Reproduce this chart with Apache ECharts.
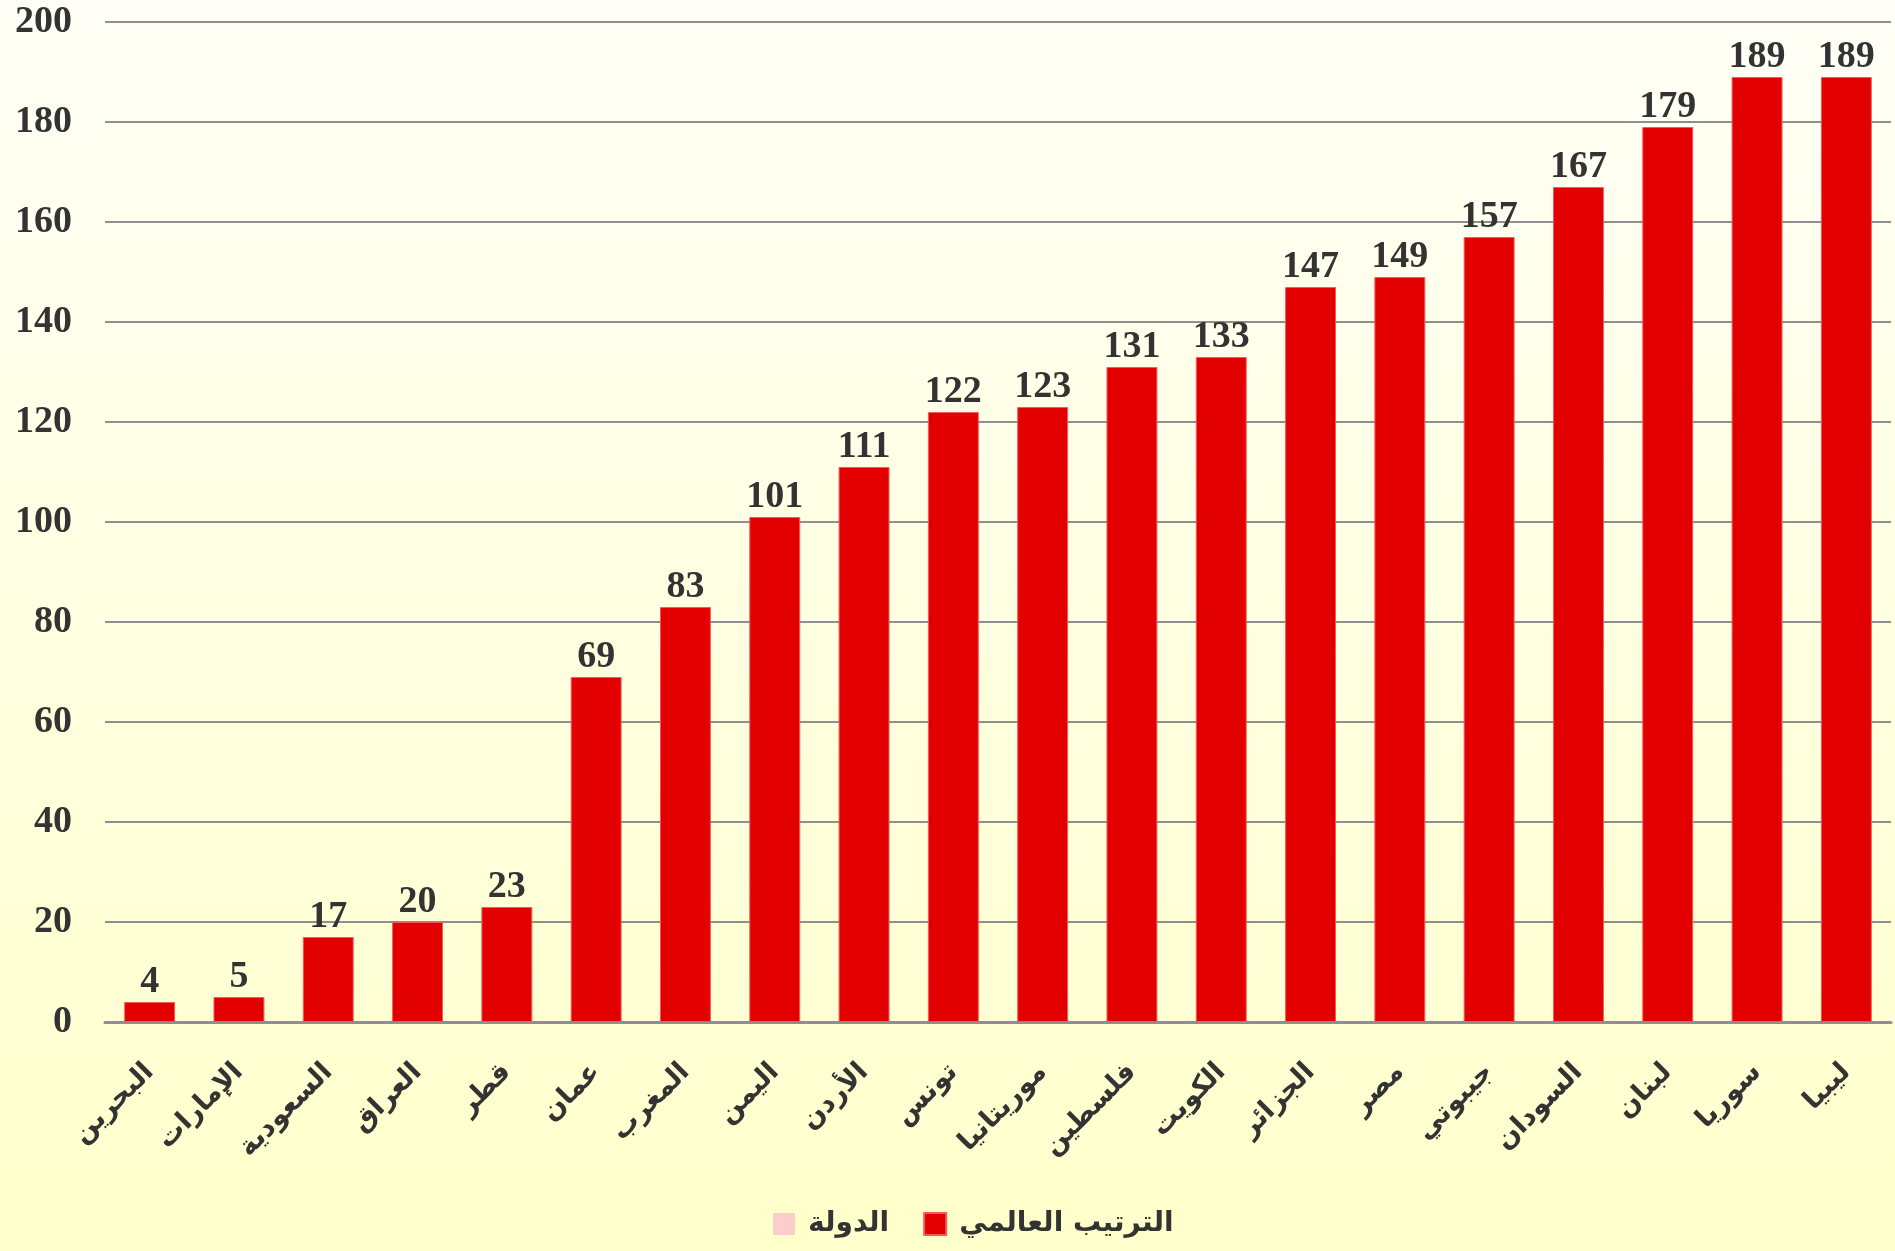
<!DOCTYPE html>
<html>
<head>
<meta charset="utf-8">
<script src="https://cdn.jsdelivr.net/npm/echarts@6/dist/echarts.min.js"></script>
<style>
    html, body { margin: 0; padding: 0; background: #ffffe8; }
    #chart { width: 1895px; height: 1251px; }
</style>
</head>
<body>
<div id="chart"></div>
<script>
// الدول مرتبة حسب الترتيب العالمي
var countries = ['البحرين', 'الإمارات', 'السعودية', 'العراق', 'قطر', 'عمان', 'المغرب', 'اليمن', 'الأردن', 'تونس',
    'موريتانيا', 'فلسطين', 'الكويت', 'الجزائر', 'مصر', 'جيبوتي', 'السودان', 'لبنان', 'سوريا', 'ليبيا'];
var ranks = [4, 5, 17, 20, 23, 69, 83, 101, 111, 122, 123, 131, 133, 147, 149, 157, 167, 179, 189, 189];
var yTicks = { min: 0, max: 200, interval: 20 };
var seriesNames = ['الدولة', 'الترتيب العالمي'];

var myChart = echarts.init(document.getElementById('chart'));

var option = {
    animation: false,
    backgroundColor: new echarts.graphic.LinearGradient(0, 0, 0, 1, [
        { offset: 0, color: '#fffff7' },
        { offset: 1, color: '#ffffcb' }
    ]),
    grid: {
        left: 105,
        right: 4,
        top: 22,
        bottom: 229
    },
    legend: {
        data: seriesNames,
        icon: 'rect',
        left: 768,
        top: 1205,
        itemWidth: 22,
        itemHeight: 22,
        itemGap: 34,
        textStyle: {
            fontFamily: 'DejaVu Sans',
            fontWeight: 'bold',
            fontSize: 28,
            color: '#333',
            padding: [0, 0, 0, 8]
        }
    },
    xAxis: {
        type: 'category',
        data: countries,
        axisTick: { show: false },
        axisLine: { lineStyle: { color: '#8f8f8f', width: 3 } },
        axisLabel: {
            interval: 0,
            rotate: 45,
            margin: 46,
            fontFamily: 'DejaVu Sans',
            fontWeight: 'bold',
            fontSize: 27,
            color: '#333'
        }
    },
    yAxis: {
        type: 'value',
        min: yTicks.min,
        max: yTicks.max,
        interval: yTicks.interval,
        axisLine: { show: false },
        axisTick: { show: false },
        splitLine: { lineStyle: { color: '#8f8f8f', width: 2 } },
        axisLabel: {
            margin: 33,
            fontFamily: 'Liberation Serif',
            fontWeight: 'bold',
            fontSize: 38,
            color: '#333'
        }
    },
    series: [{
        name: seriesNames[0],
        type: 'line',
        color: '#ffcccc',
        data: []
    }, {
        name: seriesNames[1],
        type: 'bar',
        color: '#e30000',
        barWidth: '57%',
        itemStyle: {
            borderColor: '#f25a5a',
            borderWidth: 1
        },
        label: {
            show: true,
            position: 'top',
            distance: 1,
            fontFamily: 'Liberation Serif',
            fontWeight: 'bold',
            fontSize: 38,
            color: '#333'
        },
        data: ranks
    }]
};

myChart.setOption(option);
</script>
</body>
</html>
